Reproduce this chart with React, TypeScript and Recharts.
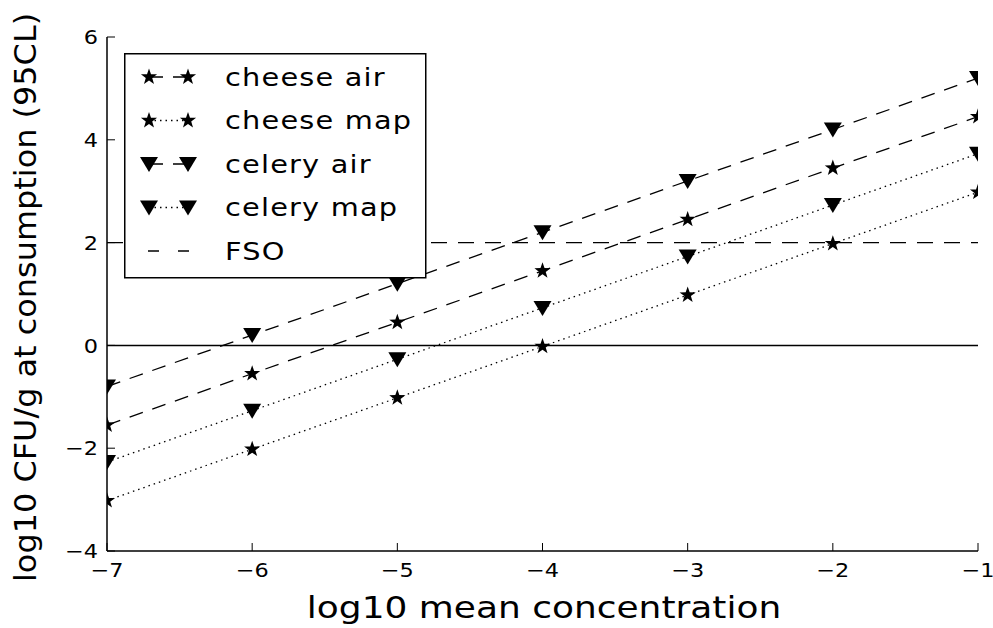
import React from "react";
import { LineChart, Line, XAxis, YAxis, ReferenceLine, Legend } from "recharts";

// log10 mean concentration
const xValues = [-7, -6, -5, -4, -3, -2, -1];
// log10 CFU/g at consumption (95CL)
const cheeseAir = [-1.55, -0.55, 0.45, 1.45, 2.45, 3.45, 4.45];
const cheeseMap = [-3.02, -2.02, -1.02, -0.02, 0.98, 1.98, 2.98];
const celeryAir = [-0.8, 0.2, 1.2, 2.2, 3.2, 4.2, 5.2];
const celeryMap = [-2.27, -1.27, -0.27, 0.73, 1.73, 2.73, 3.73];
const fso = [2, 2, 2, 2, 2, 2, 2];

const xTicks = [-7, -6, -5, -4, -3, -2, -1];
const yTicks = [-4, -2, 0, 2, 4, 6];

const rows = xValues.map((x, i) => ({
  x,
  cheeseAir: cheeseAir[i],
  cheeseMap: cheeseMap[i],
  celeryAir: celeryAir[i],
  celeryMap: celeryMap[i],
  fso: fso[i],
}));

const FONT = "'DejaVu Sans', sans-serif";
const DASHED = "14 10";
const DOTTED = "1.5 4";
const FSO_DASH = "16 11";

type Marker = "star" | "tri" | "none";

const series: { key: string; name: string; marker: Marker; dash: string }[] = [
  { key: "cheeseAir", name: "cheese air", marker: "star", dash: DASHED },
  { key: "cheeseMap", name: "cheese map", marker: "star", dash: DOTTED },
  { key: "celeryAir", name: "celery air", marker: "tri", dash: DASHED },
  { key: "celeryMap", name: "celery map", marker: "tri", dash: DOTTED },
  { key: "fso", name: "FSO", marker: "none", dash: FSO_DASH },
];

function starPath(cx: number, cy: number, R: number, r: number) {
  const pts: string[] = [];
  for (let i = 0; i < 10; i++) {
    const rad = i % 2 === 0 ? R : r;
    const a = -Math.PI / 2 + (i * Math.PI) / 5;
    pts.push(`${(cx + rad * Math.cos(a)).toFixed(2)},${(cy + rad * Math.sin(a)).toFixed(2)}`);
  }
  return `M${pts.join("L")}Z`;
}

function MarkerShape({ kind, cx, cy }: { kind: Marker; cx: number; cy: number }) {
  if (kind === "star") return <path d={starPath(cx, cy, 8.5, 3.4)} fill="#000" />;
  if (kind === "tri")
    return <path d={`M${cx - 9},${cy - 7}L${cx + 9},${cy - 7}L${cx},${cy + 8}Z`} fill="#000" />;
  return null;
}

const minus = (v: number) => String(v).replace("-", "\u2212");

const XTick = (props: any) => {
  const { x, y, payload } = props;
  return (
    <text transform={`translate(${x},${y}) scale(1.12,1)`} textAnchor="middle" dy="0.71em"
      fontSize={20} fontFamily={FONT} fill="#000">
      {minus(payload.value)}
    </text>
  );
};

const YTick = (props: any) => {
  const { x, y, payload } = props;
  return (
    <text transform={`translate(${x},${y}) scale(1.12,1)`} textAnchor="end" dy="0.355em"
      fontSize={20} fontFamily={FONT} fill="#000">
      {minus(payload.value)}
    </text>
  );
};

const noTick = () => <g />;

const LegendBox = () => (
  <svg width={303} height={226} style={{ display: "block" }}>
    <rect x={0.75} y={0.75} width={301} height={224} fill="#fff" stroke="#000" strokeWidth={1.5} />
    {series.map((s, i) => {
      const cy = 24 + i * 43.5;
      return (
        <g key={s.key}>
          {s.marker === "none" ? (
            <line x1={24} y1={cy} x2={66} y2={cy} stroke="#000" strokeWidth={1.3} strokeDasharray="11 19" />
          ) : (
            <>
              <line x1={25} y1={cy} x2={64} y2={cy} stroke="#000" strokeWidth={1.3} strokeDasharray={s.dash} />
              <MarkerShape kind={s.marker} cx={25} cy={cy} />
              <MarkerShape kind={s.marker} cx={64} cy={cy} />
            </>
          )}
          <text transform={`translate(101,${cy}) scale(1.2,1)`} dy="0.36em" fontSize={24}
            letterSpacing={1} fontFamily={FONT} fill="#000">
            {s.name}
          </text>
        </g>
      );
    })}
  </svg>
);

export default function App() {
  return (
    <div style={{ position: "absolute", left: 0, top: 0, width: 993, height: 628, background: "#fff", overflow: "hidden" }}>
      <LineChart width={993} height={628} data={rows} margin={{ top: 37, right: 15, left: 0, bottom: 0 }}>
        <XAxis dataKey="x" type="number" domain={[-7, -1]} ticks={xTicks} allowDataOverflow
          height={77} tickSize={-8} tickMargin={20} tick={XTick}
          axisLine={{ stroke: "#000", strokeWidth: 1.5 }} tickLine={{ stroke: "#000" }}
          label={{
            content: () => (
              <text transform="translate(544,618) scale(1.16,1)" textAnchor="middle" fontSize={31}
                fontFamily={FONT} fill="#000">
                log10 mean concentration
              </text>
            ),
          }} />
        <XAxis xAxisId="top" orientation="top" type="number" domain={[-7, -1]} ticks={xTicks}
          height={0} tickSize={-8} tick={noTick}
          axisLine={{ stroke: "#000", strokeWidth: 1.5 }} tickLine={{ stroke: "#000" }} />
        <YAxis type="number" domain={[-4, 6]} ticks={yTicks} allowDataOverflow width={107}
          tickSize={-8} tickMargin={17} tick={YTick}
          axisLine={{ stroke: "#000", strokeWidth: 1.5 }} tickLine={{ stroke: "#000" }}
          label={{
            content: () => (
              <text transform="translate(36,582) rotate(-90) scale(1.03,1)" textAnchor="start" fontSize={31}
                fontFamily={FONT} fill="#000">
                log10 CFU/g at consumption (95CL)
              </text>
            ),
          }} />
        <YAxis yAxisId="right" orientation="right" type="number" domain={[-4, 6]} ticks={yTicks}
          width={0} tickSize={-8} tick={noTick}
          axisLine={{ stroke: "#000", strokeWidth: 1.5 }} tickLine={{ stroke: "#000" }} />
        <ReferenceLine y={0} stroke="#000" strokeWidth={1.5} />
        {series.map((s) => (
          <Line key={s.key} dataKey={s.key} name={s.name} type="linear" stroke="#000" strokeWidth={1.3}
            strokeDasharray={s.dash} isAnimationActive={false} activeDot={false}
            dot={s.marker === "none" ? false : (p: any) => (
              <MarkerShape key={`${s.key}-${p.index}`} kind={s.marker} cx={p.cx} cy={p.cy} />
            )} />
        ))}
        <Legend layout="horizontal" verticalAlign="middle" align="center" content={LegendBox}
          wrapperStyle={{ position: "absolute", left: 124, top: 53, width: 303, height: 226 }} />
      </LineChart>
    </div>
  );
}
